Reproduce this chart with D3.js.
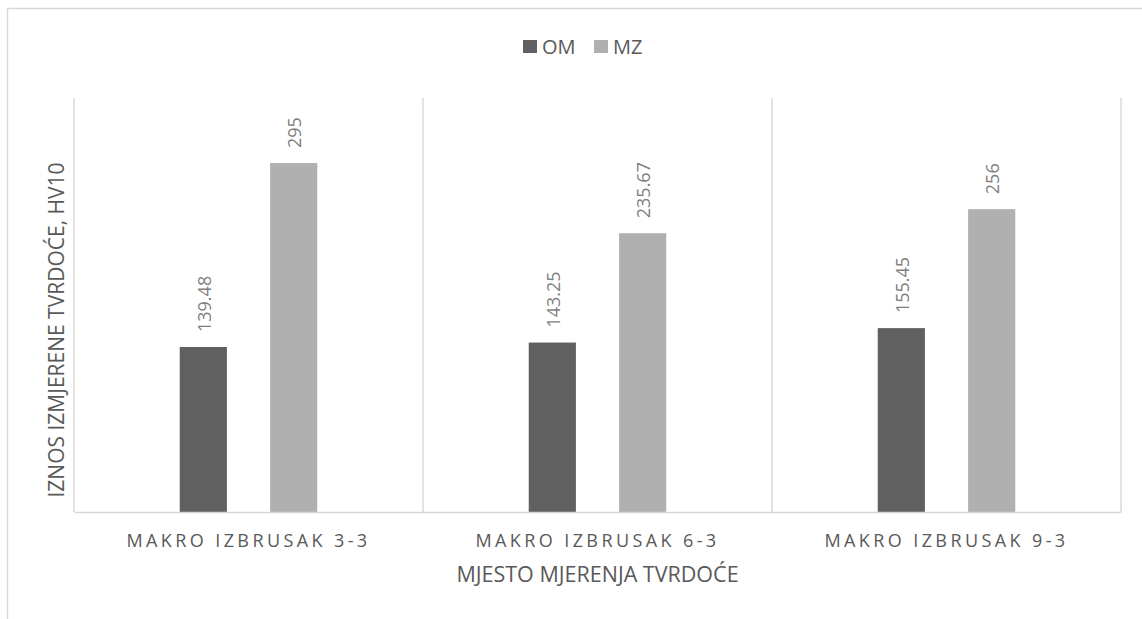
<!DOCTYPE html>
<html>
<head>
<meta charset="utf-8">
<script src="https://cdn.jsdelivr.net/npm/d3@7"></script>
<style>
  html, body { margin: 0; padding: 0; background: #ffffff; }
  svg { display: block; }
  text { font-family: "Open Sans", "Noto Sans", sans-serif; fill: #595959; }
</style>
</head>
<body>
<svg id="chart" width="1142" height="619"></svg>
<script>
// Hardness measurements per macro-section
const categories = ["MAKRO IZBRUSAK 3-3", "MAKRO IZBRUSAK 6-3", "MAKRO IZBRUSAK 9-3"];
const seriesNames = ["OM", "MZ"];
const omValues = [139.48, 143.25, 155.45];
const mzValues = [295, 235.67, 256];
const valueLabels = { OM: ["139.48", "143.25", "155.45"], MZ: ["295", "235.67", "256"] };
const yDomain = [0, 350];

const colors = { OM: "#606060", MZ: "#b0b0b0" };
const frameColor = "#d9d9d9";

const svg = d3.select("#chart");

const plot = { left: 74, right: 1121, top: 98, bottom: 512 };

// Outer chart border (only top and left edges fall inside the view)
svg.append("rect")
  .attr("x", 7.5).attr("y", 8.5)
  .attr("width", 1300).attr("height", 800)
  .attr("fill", "none")
  .attr("stroke", frameColor)
  .attr("stroke-width", 1.5);

const x = d3.scaleBand()
  .domain(categories)
  .range([plot.left, plot.right])
  .padding(0);

const xInner = d3.scaleBand()
  .domain(seriesNames)
  .range([0, x.bandwidth()])
  .paddingInner(0.478)
  .paddingOuter(1.17);

const y = d3.scaleLinear().domain(yDomain).range([plot.bottom, plot.top]);

const rows = categories.map((c, i) => ({
  category: c,
  values: [
    { key: "OM", value: omValues[i], label: valueLabels.OM[i] },
    { key: "MZ", value: mzValues[i], label: valueLabels.MZ[i] }
  ]
}));

// Vertical category dividers and plot edges
const dividers = [plot.left].concat(categories.map(c => x(c) + x.bandwidth()));
svg.append("g").selectAll("line")
  .data(dividers)
  .join("line")
  .attr("x1", d => d).attr("x2", d => d)
  .attr("y1", plot.top).attr("y2", plot.bottom)
  .attr("stroke", frameColor)
  .attr("stroke-width", 1.5);

// Bars
const groups = svg.append("g").selectAll("g")
  .data(rows)
  .join("g")
  .attr("transform", d => `translate(${x(d.category)},0)`);

groups.selectAll("rect")
  .data(d => d.values)
  .join("rect")
  .attr("x", d => xInner(d.key))
  .attr("y", d => y(d.value))
  .attr("width", xInner.bandwidth())
  .attr("height", d => y(0) - y(d.value))
  .attr("fill", d => colors[d.key]);

// Value labels, rotated above each bar
groups.selectAll("text")
  .data(d => d.values)
  .join("text")
  .attr("transform", d => {
    const cx = xInner(d.key) + xInner.bandwidth() / 2 + 7.5;
    const cy = y(d.value) - 15;
    return `translate(${cx},${cy}) rotate(-90)`;
  })
  .attr("text-anchor", "start")
  .style("font-size", "18px")
  .style("fill", "#7f7f7f")
  .text(d => d.label);

// Category axis
const xAxis = svg.append("g")
  .attr("transform", `translate(0,${plot.bottom})`)
  .call(d3.axisBottom(x).tickSize(0).tickPadding(0));
xAxis.select(".domain")
  .attr("stroke", frameColor)
  .attr("stroke-width", 1.5);
xAxis.selectAll(".tick text")
  .attr("y", 35)
  .attr("dy", null)
  .style("font-size", "18px")
  .style("letter-spacing", "3.4px")
  .style("fill", "#595959")
  .attr("font-family", null);

// Axis titles
svg.append("text")
  .attr("x", (plot.left + plot.right) / 2)
  .attr("y", 582)
  .attr("text-anchor", "middle")
  .style("font-size", "21.5px")
  .text("MJESTO MJERENJA TVRDOĆE");

svg.append("text")
  .attr("transform", `translate(64,${(plot.top + plot.bottom) / 2 + 25}) rotate(-90)`)
  .attr("text-anchor", "middle")
  .style("font-size", "21px")
  .text("IZNOS IZMJERENE TVRDOĆE, HV10");

// Legend
const legend = svg.append("g").attr("transform", "translate(523,40)");
const legendOffsets = [0, 71];
const legendItems = legend.selectAll("g")
  .data(seriesNames)
  .join("g")
  .attr("transform", (d, i) => `translate(${legendOffsets[i]},0)`);
legendItems.append("rect")
  .attr("width", 14).attr("height", 13)
  .attr("fill", d => colors[d]);
legendItems.append("text")
  .attr("x", 19).attr("y", 13.5)
  .style("font-size", "20px")
  .text(d => d);
</script>
</body>
</html>
